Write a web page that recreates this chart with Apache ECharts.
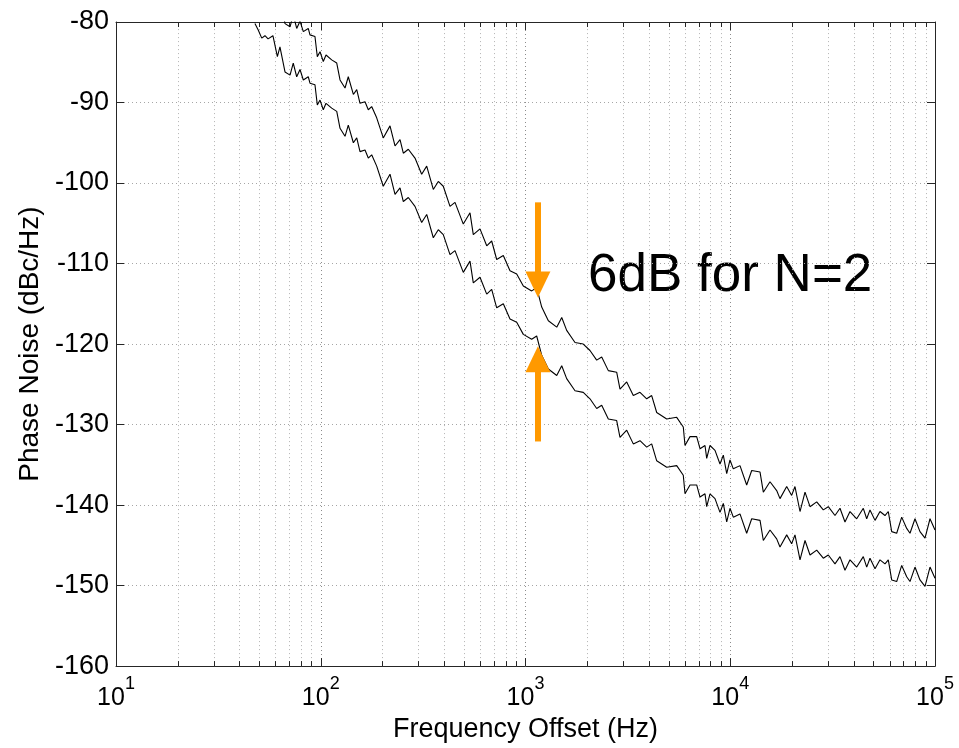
<!DOCTYPE html>
<html>
<head>
<meta charset="utf-8">
<script src="https://cdn.jsdelivr.net/npm/echarts@6/dist/echarts.min.js"></script>
<style>
  html, body { margin: 0; padding: 0; background: #fff; }
  #chart { width: 959px; height: 748px; }
</style>
</head>
<body>
<div id="chart"></div>
<script>
// frequency offset (Hz) of each sample, shared by both traces
const freq = [
  47.7, 49.5, 51.5, 53.4, 55.3, 58.4, 61.4, 63.2, 66.9, 70.8,
  73.4, 76.3, 79.2, 82.2, 86.9, 88.6, 93.7, 96.2, 99.2, 102.9,
  106.1, 113.1, 119.7, 124.2, 131.4, 136.3, 144.3, 149.9, 155.5, 164.5,
  170.7, 177.3, 187.6, 202.0, 217.9, 230.5, 243.9, 253.1, 267.7, 288.6,
  311.1, 329.2, 354.6, 375.0, 396.7, 427.8, 452.6, 496.8, 535.7, 556.0,
  599.5, 646.5, 683.7, 723.3, 779.1, 840.0, 905.8, 975.7, 1072, 1134,
  1200, 1293, 1421, 1503, 1589, 1745, 1915, 2065, 2227, 2356,
  2538, 2788, 2894, 3121, 3361, 3624, 3908, 4133, 4373, 4894,
  5476, 5897, 6011, 6360, 6856, 7117, 7528, 7674, 7963, 8424,
  8911, 9250, 9610, 9972, 10349, 11157, 12029, 12729, 13978, 14506,
  15636, 16858, 17495, 18865, 19950, 20708, 21915, 23183, 24519, 26436,
  28473, 30120, 32477, 34354, 36339, 38449, 41458, 44650, 46390, 48141,
  50935, 53871, 56984, 59137, 61452, 65006, 68769, 72737, 75485, 79851,
  84466, 89380, 94540, 100000
]

// lower trace (dBc/Hz)
const lowerTrace = [
  -80.2, -81.0, -82.0, -81.7, -82.1, -81.7, -84.3, -83.1, -86.2, -86.6,
  -85.1, -86.8, -85.9, -87.2, -86.8, -87.6, -87.8, -90.3, -89.7, -90.9,
  -90.1, -90.7, -91.1, -93.2, -94.2, -92.8, -95.0, -94.4, -96.1, -95.9,
  -96.9, -96.5, -97.9, -100.4, -98.9, -101.4, -100.6, -102.3, -101.8, -102.9,
  -104.9, -103.9, -106.8, -105.8, -106.4, -108.9, -108.4, -111.1, -109.7, -112.4,
  -111.7, -113.8, -113.2, -115.5, -115.0, -116.9, -117.3, -118.8, -119.4, -119.0,
  -121.4, -123.1, -123.9, -122.7, -124.3, -125.8, -126.0, -126.8, -128.0, -127.6,
  -129.3, -129.5, -131.6, -130.7, -132.4, -132.0, -132.8, -132.4, -134.5, -135.3,
  -135.1, -136.3, -138.6, -137.5, -137.5, -139.0, -138.6, -140.2, -138.6, -139.2,
  -140.9, -139.8, -142.1, -140.4, -141.5, -141.1, -143.5, -141.7, -141.9, -144.4,
  -143.1, -144.2, -145.2, -143.7, -144.8, -143.7, -146.8, -144.4, -146.2, -145.6,
  -146.6, -146.2, -147.3, -146.4, -148.1, -146.8, -147.7, -146.4, -147.7, -146.6,
  -147.9, -146.8, -147.3, -146.8, -149.3, -149.5, -147.5, -148.9, -149.5, -147.7,
  -149.3, -150.1, -147.7, -149.1
]

// upper trace (dBc/Hz)
const upperTrace = [
  -74.2, -75.0, -76.0, -75.7, -76.1, -75.7, -78.3, -77.1, -80.2, -80.6,
  -79.1, -80.8, -79.9, -81.2, -80.8, -81.6, -81.8, -84.3, -83.7, -84.9,
  -84.1, -84.7, -85.1, -87.2, -88.2, -86.8, -89.0, -88.4, -90.1, -89.9,
  -90.9, -90.5, -91.9, -94.4, -92.9, -95.4, -94.6, -96.3, -95.8, -96.9,
  -98.9, -97.9, -100.8, -99.8, -100.4, -102.9, -102.4, -105.1, -103.7, -106.4,
  -105.7, -107.8, -107.2, -109.5, -109.0, -110.9, -111.3, -112.8, -113.4, -113.0,
  -115.4, -117.1, -117.9, -116.7, -118.3, -119.8, -120.0, -120.8, -122.0, -121.6,
  -123.3, -123.5, -125.6, -124.7, -126.4, -126.0, -126.8, -126.4, -128.5, -129.3,
  -129.1, -130.3, -132.6, -131.5, -131.5, -133.0, -132.6, -134.2, -132.6, -133.2,
  -134.9, -133.8, -136.1, -134.4, -135.5, -135.1, -137.5, -135.7, -135.9, -138.4,
  -137.1, -138.2, -139.2, -137.7, -138.8, -137.7, -140.8, -138.4, -140.2, -139.6,
  -140.6, -140.2, -141.3, -140.4, -142.1, -140.8, -141.7, -140.4, -141.7, -140.6,
  -141.9, -140.8, -141.3, -140.8, -143.3, -143.5, -141.5, -142.9, -143.5, -141.7,
  -143.3, -144.1, -141.7, -143.1
]

// annotation: arrows at ~1.15 kHz, [start, end] in dBc/Hz
const arrowFreq = 1150
const downArrow = [-102.4, -112.6]
const upArrow = [-132.1, -121.9]
const annotationText = '6dB for N=2'

// axes
const xMin = 10
const xMax = 100000
const yMin = -160
const yMax = -80
const yStep = 10
const decades = [10, 100, 1000, 10000]
const minorSteps = [2, 3, 4, 5, 6, 7, 8, 9]
const minorTicks = decades.flatMap(d => minorSteps.map(m => d * m))

const FONT = '"Liberation Sans", Arial, sans-serif'
const AXIS_COLOR = '#262626'
const ORANGE = '#ff9900'

const chart = echarts.init(document.getElementById('chart'), null, { renderer: 'canvas' })

const baseX = {
  type: 'log',
  logBase: 10,
  min: xMin,
  max: xMax,
  interval: 1,
  axisLine: { show: true, onZero: false, lineStyle: { color: AXIS_COLOR, width: 1 } },
  axisTick: { show: true, inside: true, length: 8, lineStyle: { color: AXIS_COLOR, width: 1 } },
  minorTick: { show: false },
}

const baseY = {
  type: 'value',
  min: yMin,
  max: yMax,
  interval: yStep,
  axisLine: { show: true, onZero: false, lineStyle: { color: AXIS_COLOR, width: 1 } },
  axisTick: { show: true, inside: true, length: 8, lineStyle: { color: AXIS_COLOR, width: 1 } },
}

chart.setOption({
  animation: false,
  backgroundColor: '#fff',
  textStyle: { fontFamily: FONT },
  grid: { left: 116, right: 24, top: 22, bottom: 80, containLabel: false },
  xAxis: [
    {
      ...baseX,
      position: 'bottom',
      name: 'Frequency Offset (Hz)',
      nameLocation: 'middle',
      nameGap: 44,
      nameTextStyle: { fontSize: 27, color: '#000', fontFamily: FONT },
      axisLabel: {
        margin: 9,
        color: '#000',
        formatter: (v) => '{b|10}{s|' + Math.round(Math.log10(v)) + '}',
        rich: {
          b: { fontSize: 25, lineHeight: 47, fontFamily: FONT, color: '#000' },
          s: { fontSize: 18, lineHeight: 18, verticalAlign: 'top', fontFamily: FONT, color: '#000' },
        },
      },
      splitLine: { show: true, lineStyle: { color: '#8c8c8c', width: 1, type: [1, 3] } },
    },
    {
      ...baseX,
      position: 'top',
      axisLabel: { show: false },
      splitLine: { show: false },
    },
  ],
  yAxis: [
    {
      ...baseY,
      position: 'left',
      name: 'Phase Noise (dBc/Hz)',
      nameLocation: 'middle',
      nameRotate: 90,
      nameGap: 72,
      nameTextStyle: { fontSize: 28, color: '#000', fontFamily: FONT },
      axisLabel: { margin: 7, fontSize: 27, color: '#000', fontFamily: FONT },
      splitLine: { show: true, lineStyle: { color: '#a6a6a6', width: 1, type: [1, 3] } },
    },
    {
      ...baseY,
      position: 'right',
      axisLabel: { show: false },
      splitLine: { show: false },
    },
  ],
  graphic: [
    {
      type: 'text',
      left: 588,
      top: 250,
      style: { text: annotationText, fontSize: 53, fontFamily: FONT, fill: '#000' },
    },
  ],
  series: [
    {
      // minor log grid lines and ticks (2..9 per decade)
      type: 'custom',
      silent: true,
      z: 1,
      data: minorTicks.map(v => [v, yMin]),
      encode: { x: 0, y: 1 },
      renderItem: (params, api) => {
        const v = api.value(0)
        const b = api.coord([v, yMin])
        const t = api.coord([v, yMax])
        const x = Math.round(b[0]) + 0.5
        return {
          type: 'group',
          children: [
            { type: 'line', shape: { x1: x, y1: b[1], x2: x, y2: t[1] },
              style: { stroke: '#b3b3b3', lineWidth: 1, lineDash: [1, 3] } },
            { type: 'line', shape: { x1: x, y1: b[1], x2: x, y2: b[1] - 5 },
              style: { stroke: AXIS_COLOR, lineWidth: 1 } },
            { type: 'line', shape: { x1: x, y1: t[1], x2: x, y2: t[1] + 5 },
              style: { stroke: AXIS_COLOR, lineWidth: 1 } },
          ],
        }
      },
    },
    {
      name: 'lower',
      type: 'line',
      z: 3,
      showSymbol: false,
      symbol: 'none',
      clip: true,
      lineStyle: { color: '#000', width: 1.1 },
      data: freq.map((f, i) => [f, lowerTrace[i]]),
    },
    {
      name: 'upper',
      type: 'line',
      z: 3,
      showSymbol: false,
      symbol: 'none',
      clip: true,
      lineStyle: { color: '#000', width: 1.1 },
      data: freq.map((f, i) => [f, upperTrace[i]]),
      markLine: {
        silent: true,
        z: 5,
        symbol: ['none', 'triangle'],
        symbolSize: [25, 26],
        label: { show: false },
        lineStyle: { color: ORANGE, width: 6, type: 'solid' },
        itemStyle: { color: ORANGE },
        emphasis: { disabled: true },
        data: [
          [{ coord: [arrowFreq, downArrow[0]] }, { coord: [arrowFreq, downArrow[1]] }],
          [{ coord: [arrowFreq, upArrow[0]] }, { coord: [arrowFreq, upArrow[1]] }],
        ],
      },
    },
  ],
})
</script>
</body>
</html>
